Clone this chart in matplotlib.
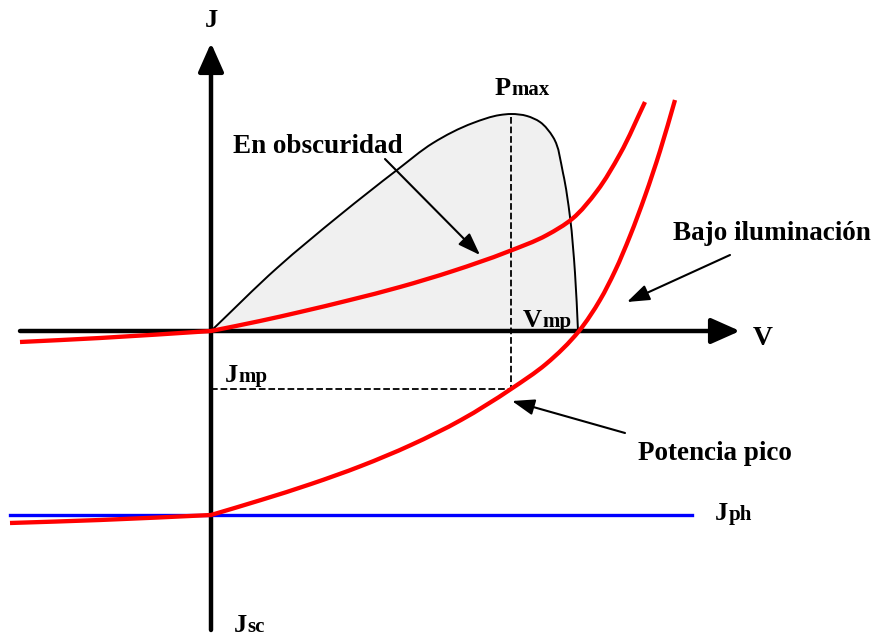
import numpy as np
import matplotlib
import matplotlib.pyplot as plt
from matplotlib.path import Path
from matplotlib.patches import PathPatch

matplotlib.rc('font', family='Liberation Serif', weight='bold', size=19.5)

# curve under dark conditions (V, J)
dark_v = [-191, -111, 0, 49, 89, 139, 189, 242, 296, 336, 361, 386, 409, 434]
dark_j = [-11, -7, 0, 10, 19, 31, 44, 60, 79, 96, 112, 140, 177, 229]

# curve under illumination (V, J)
light_v = [-201, -111, 0, 50, 100, 150, 200, 250, 300, 335, 368, 389, 404, 419, 434, 449, 464]
light_j = [-192, -189, -184, -169, -153, -135, -114, -89, -58, -33, 0, 31, 60, 95, 135, 180, 231]

# power curve (V, P)
pow_v = [0, 66, 129, 186, 222, 262, 289, 300, 316, 329, 342, 352, 359, 364, 367]
pow_p = [0, 63, 116, 161, 188, 208, 216, 217, 215, 209, 194, 158, 114, 58, 0]

v_mp = 300
j_mp = -58
p_max = 217
j_ph = -184
ph_range = [-201, 481]


def bezier_segments(pts):
    # chord-length Catmull-Rom through pts, as cubic bezier control points
    ext = np.vstack([2 * pts[0] - pts[1], pts, 2 * pts[-1] - pts[-2]])
    d = np.linalg.norm(np.diff(ext, axis=0), axis=1)

    def tangent(k):
        a, b, c = ext[k - 1], ext[k], ext[k + 1]
        da, db = d[k - 1], d[k]
        return (b - a) / da - (c - a) / (da + db) + (c - b) / db

    verts = []
    for i in range(1, len(ext) - 2):
        p1, p2 = ext[i], ext[i + 1]
        m1 = tangent(i) * d[i]
        m2 = tangent(i + 1) * d[i]
        verts += [p1 + m1 / 3, p2 - m2 / 3, p2]
    return verts


def smooth_path(xs, ys, corner=None, close_to_axis=False):
    pts = np.column_stack([xs, ys]).astype(float)
    pieces = [pts] if corner is None else [pts[:corner + 1], pts[corner:]]
    verts = [pts[0]]
    codes = [Path.MOVETO]
    for piece in pieces:
        seg = bezier_segments(piece)
        verts += seg
        codes += [Path.CURVE4] * len(seg)
    if close_to_axis:
        verts += [pts[0], pts[0]]
        codes += [Path.LINETO, Path.CLOSEPOLY]
    return Path(verts, codes)


fig = plt.figure(figsize=(8.77, 6.36), dpi=100)
ax = fig.add_axes([0, 0, 1, 1])
ax.set_xlim(-211, 666)
ax.set_ylim(-305, 331)
ax.axis('off')

# axes with arrows
axis_arw = dict(arrowstyle='-|>,head_length=0.9,head_width=0.4', lw=3.2, color='black',
                shrinkA=0, shrinkB=0)
ax.annotate('', xy=(529, 0), xytext=(-191, 0), arrowprops=axis_arw)
ax.annotate('', xy=(0, 288), xytext=(0, -299), arrowprops=axis_arw)

# power curve with shaded area
ax.add_patch(PathPatch(smooth_path(pow_v, pow_p, close_to_axis=True), facecolor='#f0f0f0',
                       edgecolor='none', zorder=1))
ax.add_patch(PathPatch(smooth_path(pow_v, pow_p), facecolor='none', edgecolor='black', lw=1.4, zorder=3))

# dashed guides at max power point
ax.plot([v_mp, v_mp], [p_max - 3, j_mp], ls='--', color='black', lw=1.3, zorder=3)
ax.plot([0, v_mp], [j_mp, j_mp], ls='--', color='black', lw=1.3, zorder=3)

ax.plot(ph_range, [j_ph, j_ph], color='#0000ff', lw=2.4, zorder=3)
for vv, jj in [(dark_v, dark_j), (light_v, light_j)]:
    ax.add_patch(PathPatch(smooth_path(vv, jj, corner=vv.index(0)), facecolor='none',
                           edgecolor='#ff0000', lw=3.1, zorder=4, capstyle='butt', joinstyle='round'))

fig.canvas.draw()
rend = fig.canvas.get_renderer()


def sublabel(x, y, main, sub):
    t = ax.text(x, y, main, ha='left', va='baseline', fontsize=19)
    w = t.get_window_extent(rend).width * 72 / fig.dpi
    ax.annotate(sub, xy=(x, y), xytext=(w, 0), textcoords='offset points',
                ha='left', va='baseline', fontsize=15)


ax.text(0, 304, 'J', ha='center', va='baseline', fontsize=19)
ax.text(552, -14, 'V', ha='center', va='baseline', fontsize=20)
sublabel(284, 236, 'P', 'max')
sublabel(312, 4, 'V', 'mp')
sublabel(14, -51, 'J', 'mp')
sublabel(504, -189, 'J', 'ph')
sublabel(23, -301, 'J', 'sc')

ax.text(22, 178, 'En obscuridad', ha='left', va='baseline')
ax.text(462, 91, 'Bajo iluminación', ha='left', va='baseline')
ax.text(427, -129, 'Potencia pico', ha='left', va='baseline')

arw = dict(arrowstyle='-|>,head_length=0.7,head_width=0.25', lw=1.5, color='black',
           shrinkA=0, shrinkB=0)
ax.annotate('', xy=(269, 76), xytext=(174, 172), arrowprops=arw)
ax.annotate('', xy=(416, 29), xytext=(519, 76), arrowprops=arw)
ax.annotate('', xy=(301, -70), xytext=(414, -102), arrowprops=arw)

fig.savefig('out.png', dpi=100)
